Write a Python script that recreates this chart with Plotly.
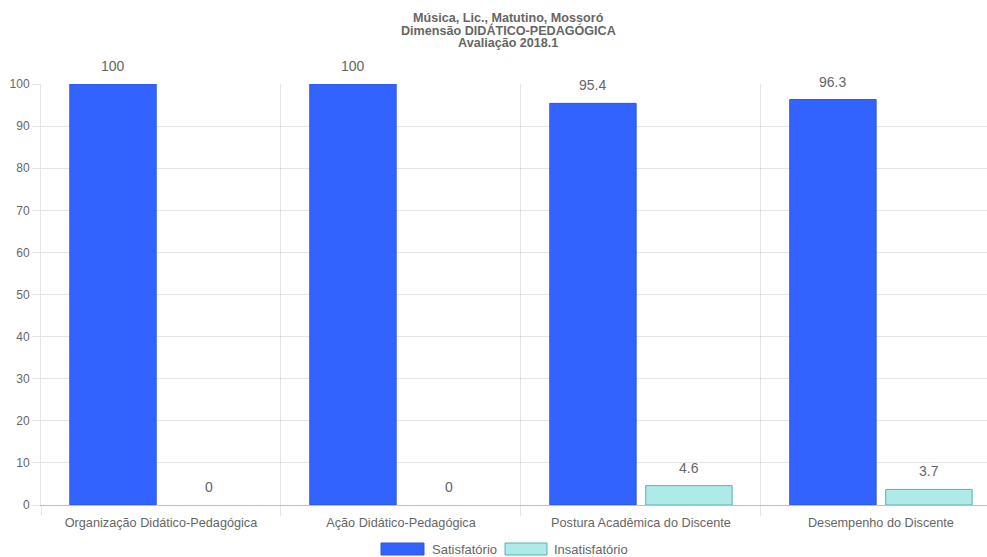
import plotly.graph_objects as go

categories = ["Organização Didático-Pedagógica", "Ação Didático-Pedagógica",
              "Postura Acadêmica do Discente", "Desempenho do Discente"]
series_names = ["Satisfatório", "Insatisfatório"]
satisfatorio = [100, 100, 95.4, 96.3]
insatisfatorio = [0, 0, 4.6, 3.7]
title_lines = ["Música, Lic., Matutino, Mossoró", "Dimensão DIDÁTICO-PEDAGÓGICA", "Avaliação 2018.1"]
y_ticks = [0, 10, 20, 30, 40, 50, 60, 70, 80, 90, 100]

W, H = 987, 557
ML, MR, MT, MB = 41, 0, 84, 52
PW, PH = W - ML - MR, H - MT - MB

def px_x(px):
    return (px - ML) / PW

def px_y(py):
    return (H - MB - py) / PH

fills = ["rgb(51,99,255)", "rgb(174,234,231)"]
borders = ["rgb(45,85,225)", "rgb(88,178,172)"]
values = [satisfatorio, insatisfatorio]
grid = "rgba(0,0,0,0.1)"
txt = "#666666"
FONT = "Liberation Sans, Arial, Helvetica, sans-serif"

fig = go.Figure()
for name, vals, f, b in zip(series_names, values, fills, borders):
    fig.add_trace(go.Bar(x=categories, y=vals, name=name,
                         marker=dict(color=f, line=dict(color=b, width=[1 if v > 0 else 0 for v in vals])),
                         showlegend=False, hoverinfo="x+y"))

annotations = []
offsets = [-48, 48]
for vals, off in zip(values, offsets):
    for c, v in zip(categories, vals):
        annotations.append(dict(x=c, y=v, xref="x", yref="y", text=f"{v:g}",
                                showarrow=False, xshift=off, yshift=8, yanchor="bottom",
                                font=dict(family=FONT, size=14, color=txt)))

title_y = [17.5, 30, 42.5]
for line, ty in zip(title_lines, title_y):
    annotations.append(dict(x=px_x(508), y=px_y(ty), xref="paper", yref="paper",
                            text=f"<b>{line}</b>", showarrow=False,
                            xanchor="center", yanchor="middle",
                            font=dict(family=FONT, size=12.6, color=txt)))

# custom legend (wide boxes like the original)
shapes = []
legend_boxes = [(381, 424), (505, 547)]
legend_text_x = [430, 552]
for name, f, b, (x0, x1), tx in zip(series_names, fills, borders, legend_boxes, legend_text_x):
    shapes.append(dict(type="rect", xref="paper", yref="paper",
                       x0=px_x(x0), x1=px_x(x1), y0=px_y(555), y1=px_y(543),
                       fillcolor=f, line=dict(color=b, width=1)))
    annotations.append(dict(x=px_x(tx), y=px_y(549), xref="paper", yref="paper",
                            text=name, showarrow=False, xanchor="left", yanchor="middle",
                            font=dict(family=FONT, size=13, color=txt)))

fig.update_layout(
    width=W, height=H,
    margin=dict(l=ML, r=MR, t=MT, b=MB, pad=0),
    paper_bgcolor="white", plot_bgcolor="white",
    barmode="group", bargap=0.2, bargroupgap=0.1,
    font=dict(family=FONT, size=12, color=txt),
    annotations=annotations, shapes=shapes,
    xaxis=dict(type="category", range=[-0.5, 3.442], tickson="boundaries",
               showgrid=True, gridcolor=grid, gridwidth=1,
               ticks="outside", ticklen=10, tickcolor=grid, ticklabelstandoff=6,
               showline=True, linecolor="rgba(0,0,0,0.25)", linewidth=1,
               tickfont=dict(family=FONT, size=12.7, color=txt)),
    yaxis=dict(range=[0, 100], tickvals=y_ticks, showgrid=True, gridcolor=grid,
               zeroline=False, ticks="outside", ticklen=8, tickcolor=grid,
               showline=True, linecolor=grid,
               tickfont=dict(family=FONT, size=12, color=txt)),
)

fig.write_html("out.html", config={"displayModeBar": False},
               post_script="document.body.style.margin='0';document.body.style.overflow='hidden';")
